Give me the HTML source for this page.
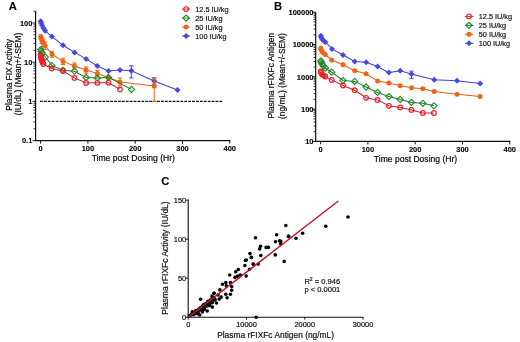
<!DOCTYPE html>
<html><head><meta charset="utf-8"><style>
html,body{margin:0;padding:0;background:#fff;}
svg{display:block;will-change:transform;}
</style></head><body>
<svg width="520" height="342" viewBox="0 0 520 342">
<rect width="520" height="342" fill="#fff"/>
<g font-family="Liberation Sans, sans-serif" fill="#000">
<text x="8.80" y="10.00" font-size="11.2" text-anchor="start" font-weight="bold" stroke="#222" stroke-width="0.12" >A</text>
<line x1="35.60" y1="11.20" x2="35.60" y2="141.10" stroke="#111" stroke-width="1.2" />
<line x1="35.00" y1="140.60" x2="230.30" y2="140.60" stroke="#111" stroke-width="1.2" />
<line x1="32.60" y1="23.00" x2="35.60" y2="23.00" stroke="#111" stroke-width="1" />
<text x="32.40" y="25.80" font-size="7.5" text-anchor="end" font-weight="bold" stroke="#222" stroke-width="0.12" >100</text>
<line x1="32.60" y1="62.20" x2="35.60" y2="62.20" stroke="#111" stroke-width="1" />
<text x="32.40" y="65.00" font-size="7.5" text-anchor="end" font-weight="bold" stroke="#222" stroke-width="0.12" >10</text>
<line x1="32.60" y1="101.40" x2="35.60" y2="101.40" stroke="#111" stroke-width="1" />
<text x="32.40" y="104.20" font-size="7.5" text-anchor="end" font-weight="bold" stroke="#222" stroke-width="0.12" >1</text>
<line x1="32.60" y1="140.60" x2="35.60" y2="140.60" stroke="#111" stroke-width="1" />
<text x="32.40" y="143.40" font-size="7.5" text-anchor="end" font-weight="bold" stroke="#222" stroke-width="0.12" >0.1</text>
<line x1="33.50" y1="128.80" x2="35.60" y2="128.80" stroke="#111" stroke-width="0.9" />
<line x1="33.50" y1="121.90" x2="35.60" y2="121.90" stroke="#111" stroke-width="0.9" />
<line x1="33.50" y1="117.00" x2="35.60" y2="117.00" stroke="#111" stroke-width="0.9" />
<line x1="33.50" y1="113.20" x2="35.60" y2="113.20" stroke="#111" stroke-width="0.9" />
<line x1="33.50" y1="110.10" x2="35.60" y2="110.10" stroke="#111" stroke-width="0.9" />
<line x1="33.50" y1="107.47" x2="35.60" y2="107.47" stroke="#111" stroke-width="0.9" />
<line x1="33.50" y1="105.20" x2="35.60" y2="105.20" stroke="#111" stroke-width="0.9" />
<line x1="33.50" y1="103.19" x2="35.60" y2="103.19" stroke="#111" stroke-width="0.9" />
<line x1="33.50" y1="89.60" x2="35.60" y2="89.60" stroke="#111" stroke-width="0.9" />
<line x1="33.50" y1="82.70" x2="35.60" y2="82.70" stroke="#111" stroke-width="0.9" />
<line x1="33.50" y1="77.80" x2="35.60" y2="77.80" stroke="#111" stroke-width="0.9" />
<line x1="33.50" y1="74.00" x2="35.60" y2="74.00" stroke="#111" stroke-width="0.9" />
<line x1="33.50" y1="70.90" x2="35.60" y2="70.90" stroke="#111" stroke-width="0.9" />
<line x1="33.50" y1="68.27" x2="35.60" y2="68.27" stroke="#111" stroke-width="0.9" />
<line x1="33.50" y1="66.00" x2="35.60" y2="66.00" stroke="#111" stroke-width="0.9" />
<line x1="33.50" y1="63.99" x2="35.60" y2="63.99" stroke="#111" stroke-width="0.9" />
<line x1="33.50" y1="50.40" x2="35.60" y2="50.40" stroke="#111" stroke-width="0.9" />
<line x1="33.50" y1="43.50" x2="35.60" y2="43.50" stroke="#111" stroke-width="0.9" />
<line x1="33.50" y1="38.60" x2="35.60" y2="38.60" stroke="#111" stroke-width="0.9" />
<line x1="33.50" y1="34.80" x2="35.60" y2="34.80" stroke="#111" stroke-width="0.9" />
<line x1="33.50" y1="31.70" x2="35.60" y2="31.70" stroke="#111" stroke-width="0.9" />
<line x1="33.50" y1="29.07" x2="35.60" y2="29.07" stroke="#111" stroke-width="0.9" />
<line x1="33.50" y1="26.80" x2="35.60" y2="26.80" stroke="#111" stroke-width="0.9" />
<line x1="33.50" y1="24.79" x2="35.60" y2="24.79" stroke="#111" stroke-width="0.9" />
<line x1="33.50" y1="11.20" x2="35.60" y2="11.20" stroke="#111" stroke-width="0.9" />
<line x1="40.60" y1="140.60" x2="40.60" y2="143.60" stroke="#111" stroke-width="1" />
<text x="40.60" y="151.00" font-size="7.5" text-anchor="middle" font-weight="bold" stroke="#222" stroke-width="0.12" >0</text>
<line x1="87.90" y1="140.60" x2="87.90" y2="143.60" stroke="#111" stroke-width="1" />
<text x="87.90" y="151.00" font-size="7.5" text-anchor="middle" font-weight="bold" stroke="#222" stroke-width="0.12" >100</text>
<line x1="135.20" y1="140.60" x2="135.20" y2="143.60" stroke="#111" stroke-width="1" />
<text x="135.20" y="151.00" font-size="7.5" text-anchor="middle" font-weight="bold" stroke="#222" stroke-width="0.12" >200</text>
<line x1="182.50" y1="140.60" x2="182.50" y2="143.60" stroke="#111" stroke-width="1" />
<text x="182.50" y="151.00" font-size="7.5" text-anchor="middle" font-weight="bold" stroke="#222" stroke-width="0.12" >300</text>
<line x1="229.80" y1="140.60" x2="229.80" y2="143.60" stroke="#111" stroke-width="1" />
<text x="229.80" y="151.00" font-size="7.5" text-anchor="middle" font-weight="bold" stroke="#222" stroke-width="0.12" >400</text>
<text x="133.30" y="160.50" font-size="8.55" text-anchor="middle" font-weight="normal" stroke="#222" stroke-width="0.22" >Time post Dosing (Hr)</text>
<text x="0.00" y="0.00" font-size="8.4" text-anchor="middle" font-weight="normal" stroke="#222" stroke-width="0.22" transform="translate(11.6,74.8) rotate(-90)">Plasma FIX Activity</text>
<text x="0.00" y="0.00" font-size="8.4" text-anchor="middle" font-weight="normal" stroke="#222" stroke-width="0.22" transform="translate(20.9,74.0) rotate(-90)">(IU/dL) (Mean+/-SEM)</text>
<line x1="40.00" y1="101.35" x2="222.20" y2="101.35" stroke="#111" stroke-width="1.1" stroke-dasharray="2.85 1.05"/>
</g>
<path d="M40.70 21.30 L41.10 23.00 L42.00 25.30 L43.40 28.00 L45.10 30.80 L51.80 36.40 L63.00 45.30 L74.60 52.40 L86.10 58.90 L97.30 66.00 L108.50 71.00 L120.00 70.10 L131.30 70.70 L154.20 81.00 L177.50 90.00" fill="none" stroke="#4040d0" stroke-width="1.05"/>
<line x1="131.30" y1="65.80" x2="131.30" y2="77.90" stroke="#4646e6" stroke-width="1" />
<line x1="129.10" y1="65.80" x2="133.50" y2="65.80" stroke="#4646e6" stroke-width="1" />
<line x1="129.10" y1="77.90" x2="133.50" y2="77.90" stroke="#4646e6" stroke-width="1" />
<line x1="154.20" y1="77.80" x2="154.20" y2="84.00" stroke="#4646e6" stroke-width="1" />
<line x1="152.00" y1="77.80" x2="156.40" y2="77.80" stroke="#4646e6" stroke-width="1" />
<line x1="152.00" y1="84.00" x2="156.40" y2="84.00" stroke="#4646e6" stroke-width="1" />
<path d="M40.70 18.30L43.70 21.30L40.70 24.30L37.70 21.30Z" fill="#4646e6"/>
<path d="M41.10 20.00L44.10 23.00L41.10 26.00L38.10 23.00Z" fill="#4646e6"/>
<path d="M42.00 22.30L45.00 25.30L42.00 28.30L39.00 25.30Z" fill="#4646e6"/>
<path d="M43.40 25.00L46.40 28.00L43.40 31.00L40.40 28.00Z" fill="#4646e6"/>
<path d="M45.10 27.80L48.10 30.80L45.10 33.80L42.10 30.80Z" fill="#4646e6"/>
<path d="M51.80 33.40L54.80 36.40L51.80 39.40L48.80 36.40Z" fill="#4646e6"/>
<path d="M63.00 42.30L66.00 45.30L63.00 48.30L60.00 45.30Z" fill="#4646e6"/>
<path d="M74.60 49.40L77.60 52.40L74.60 55.40L71.60 52.40Z" fill="#4646e6"/>
<path d="M86.10 55.90L89.10 58.90L86.10 61.90L83.10 58.90Z" fill="#4646e6"/>
<path d="M97.30 63.00L100.30 66.00L97.30 69.00L94.30 66.00Z" fill="#4646e6"/>
<path d="M108.50 68.00L111.50 71.00L108.50 74.00L105.50 71.00Z" fill="#4646e6"/>
<path d="M120.00 67.10L123.00 70.10L120.00 73.10L117.00 70.10Z" fill="#4646e6"/>
<path d="M131.30 67.70L134.30 70.70L131.30 73.70L128.30 70.70Z" fill="#4646e6"/>
<path d="M154.20 78.00L157.20 81.00L154.20 84.00L151.20 81.00Z" fill="#4646e6"/>
<path d="M177.50 87.00L180.50 90.00L177.50 93.00L174.50 90.00Z" fill="#4646e6"/>
<path d="M40.70 36.50 L41.10 38.50 L42.00 40.80 L43.40 43.20 L45.10 45.80 L52.00 54.30 L63.00 61.40 L74.40 66.10 L86.00 70.10 L97.30 73.40 L108.50 77.50 L120.00 81.90 L154.20 86.00" fill="none" stroke="#e0601c" stroke-width="1.05"/>
<line x1="42.00" y1="38.00" x2="42.00" y2="43.50" stroke="#f06414" stroke-width="1" />
<line x1="39.80" y1="38.00" x2="44.20" y2="38.00" stroke="#f06414" stroke-width="1" />
<line x1="39.80" y1="43.50" x2="44.20" y2="43.50" stroke="#f06414" stroke-width="1" />
<line x1="43.40" y1="40.00" x2="43.40" y2="46.50" stroke="#f06414" stroke-width="1" />
<line x1="41.20" y1="40.00" x2="45.60" y2="40.00" stroke="#f06414" stroke-width="1" />
<line x1="41.20" y1="46.50" x2="45.60" y2="46.50" stroke="#f06414" stroke-width="1" />
<line x1="45.10" y1="42.20" x2="45.10" y2="49.50" stroke="#f06414" stroke-width="1" />
<line x1="42.90" y1="42.20" x2="47.30" y2="42.20" stroke="#f06414" stroke-width="1" />
<line x1="42.90" y1="49.50" x2="47.30" y2="49.50" stroke="#f06414" stroke-width="1" />
<line x1="52.00" y1="51.30" x2="52.00" y2="57.30" stroke="#f06414" stroke-width="1" />
<line x1="49.80" y1="51.30" x2="54.20" y2="51.30" stroke="#f06414" stroke-width="1" />
<line x1="49.80" y1="57.30" x2="54.20" y2="57.30" stroke="#f06414" stroke-width="1" />
<line x1="63.00" y1="58.30" x2="63.00" y2="64.60" stroke="#f06414" stroke-width="1" />
<line x1="60.80" y1="58.30" x2="65.20" y2="58.30" stroke="#f06414" stroke-width="1" />
<line x1="60.80" y1="64.60" x2="65.20" y2="64.60" stroke="#f06414" stroke-width="1" />
<line x1="74.40" y1="63.00" x2="74.40" y2="69.20" stroke="#f06414" stroke-width="1" />
<line x1="72.20" y1="63.00" x2="76.60" y2="63.00" stroke="#f06414" stroke-width="1" />
<line x1="72.20" y1="69.20" x2="76.60" y2="69.20" stroke="#f06414" stroke-width="1" />
<line x1="86.00" y1="67.00" x2="86.00" y2="73.20" stroke="#f06414" stroke-width="1" />
<line x1="83.80" y1="67.00" x2="88.20" y2="67.00" stroke="#f06414" stroke-width="1" />
<line x1="83.80" y1="73.20" x2="88.20" y2="73.20" stroke="#f06414" stroke-width="1" />
<line x1="97.30" y1="70.40" x2="97.30" y2="76.40" stroke="#f06414" stroke-width="1" />
<line x1="95.10" y1="70.40" x2="99.50" y2="70.40" stroke="#f06414" stroke-width="1" />
<line x1="95.10" y1="76.40" x2="99.50" y2="76.40" stroke="#f06414" stroke-width="1" />
<line x1="120.00" y1="78.00" x2="120.00" y2="85.80" stroke="#f06414" stroke-width="1" />
<line x1="117.80" y1="78.00" x2="122.20" y2="78.00" stroke="#f06414" stroke-width="1" />
<line x1="117.80" y1="85.80" x2="122.20" y2="85.80" stroke="#f06414" stroke-width="1" />
<line x1="154.20" y1="78.30" x2="154.20" y2="101.40" stroke="#f06414" stroke-width="1" />
<line x1="152.00" y1="78.30" x2="156.40" y2="78.30" stroke="#f06414" stroke-width="1" />
<line x1="152.00" y1="101.40" x2="156.40" y2="101.40" stroke="#f06414" stroke-width="1" />
<circle cx="40.70" cy="36.50" r="2.5" fill="#f06414"/>
<circle cx="41.10" cy="38.50" r="2.5" fill="#f06414"/>
<circle cx="42.00" cy="40.80" r="2.5" fill="#f06414"/>
<circle cx="43.40" cy="43.20" r="2.5" fill="#f06414"/>
<circle cx="45.10" cy="45.80" r="2.5" fill="#f06414"/>
<circle cx="52.00" cy="54.30" r="2.5" fill="#f06414"/>
<circle cx="63.00" cy="61.40" r="2.5" fill="#f06414"/>
<circle cx="74.40" cy="66.10" r="2.5" fill="#f06414"/>
<circle cx="86.00" cy="70.10" r="2.5" fill="#f06414"/>
<circle cx="97.30" cy="73.40" r="2.5" fill="#f06414"/>
<circle cx="108.50" cy="77.50" r="2.5" fill="#f06414"/>
<circle cx="120.00" cy="81.90" r="2.5" fill="#f06414"/>
<circle cx="154.20" cy="86.00" r="2.5" fill="#f06414"/>
<path d="M40.70 49.60 L41.10 51.20 L42.00 53.00 L45.30 57.00 L51.80 65.40 L63.00 70.30 L74.40 71.20 L86.10 77.50 L97.30 77.90 L108.50 77.40 L131.50 89.40" fill="none" stroke="#1a7a2a" stroke-width="1.05"/>
<path d="M40.70 46.50L43.80 49.60L40.70 52.70L37.60 49.60Z" fill="none" stroke="#1e8c28" stroke-width="1.15"/>
<path d="M41.10 48.10L44.20 51.20L41.10 54.30L38.00 51.20Z" fill="none" stroke="#1e8c28" stroke-width="1.15"/>
<path d="M42.00 49.90L45.10 53.00L42.00 56.10L38.90 53.00Z" fill="none" stroke="#1e8c28" stroke-width="1.15"/>
<path d="M45.30 53.90L48.40 57.00L45.30 60.10L42.20 57.00Z" fill="none" stroke="#1e8c28" stroke-width="1.15"/>
<path d="M51.80 62.30L54.90 65.40L51.80 68.50L48.70 65.40Z" fill="none" stroke="#1e8c28" stroke-width="1.15"/>
<path d="M63.00 67.20L66.10 70.30L63.00 73.40L59.90 70.30Z" fill="none" stroke="#1e8c28" stroke-width="1.15"/>
<path d="M74.40 68.10L77.50 71.20L74.40 74.30L71.30 71.20Z" fill="none" stroke="#1e8c28" stroke-width="1.15"/>
<path d="M86.10 74.40L89.20 77.50L86.10 80.60L83.00 77.50Z" fill="none" stroke="#1e8c28" stroke-width="1.15"/>
<path d="M97.30 74.80L100.40 77.90L97.30 81.00L94.20 77.90Z" fill="none" stroke="#1e8c28" stroke-width="1.15"/>
<path d="M108.50 74.30L111.60 77.40L108.50 80.50L105.40 77.40Z" fill="none" stroke="#1e8c28" stroke-width="1.15"/>
<path d="M131.50 86.30L134.60 89.40L131.50 92.50L128.40 89.40Z" fill="none" stroke="#1e8c28" stroke-width="1.15"/>
<path d="M40.70 55.00 L40.90 56.60 L41.10 58.00 L41.60 59.60 L42.10 61.00 L42.70 62.60 L43.30 64.00 L51.70 68.50 L63.00 71.00 L74.40 77.90 L86.10 83.00 L97.30 82.80 L108.50 82.70 L120.00 89.40" fill="none" stroke="#c81e32" stroke-width="1.05"/>
<circle cx="40.70" cy="55.00" r="2.35" fill="none" stroke="#e8202a" stroke-width="1.15"/>
<circle cx="40.90" cy="56.60" r="2.35" fill="none" stroke="#e8202a" stroke-width="1.15"/>
<circle cx="41.10" cy="58.00" r="2.35" fill="none" stroke="#e8202a" stroke-width="1.15"/>
<circle cx="41.60" cy="59.60" r="2.35" fill="none" stroke="#e8202a" stroke-width="1.15"/>
<circle cx="42.10" cy="61.00" r="2.35" fill="none" stroke="#e8202a" stroke-width="1.15"/>
<circle cx="42.70" cy="62.60" r="2.35" fill="none" stroke="#e8202a" stroke-width="1.15"/>
<circle cx="43.30" cy="64.00" r="2.35" fill="none" stroke="#e8202a" stroke-width="1.15"/>
<circle cx="51.70" cy="68.50" r="2.35" fill="none" stroke="#e8202a" stroke-width="1.15"/>
<circle cx="63.00" cy="71.00" r="2.35" fill="none" stroke="#e8202a" stroke-width="1.15"/>
<circle cx="74.40" cy="77.90" r="2.35" fill="none" stroke="#e8202a" stroke-width="1.15"/>
<circle cx="86.10" cy="83.00" r="2.35" fill="none" stroke="#e8202a" stroke-width="1.15"/>
<circle cx="97.30" cy="82.80" r="2.35" fill="none" stroke="#e8202a" stroke-width="1.15"/>
<circle cx="108.50" cy="82.70" r="2.35" fill="none" stroke="#e8202a" stroke-width="1.15"/>
<circle cx="120.00" cy="89.40" r="2.35" fill="none" stroke="#e8202a" stroke-width="1.15"/>
<g font-family="Liberation Sans, sans-serif" fill="#222">
<line x1="182.00" y1="9.10" x2="190.20" y2="9.10" stroke="#e8202a" stroke-width="1" />
<circle cx="186.10" cy="9.10" r="2.35" fill="none" stroke="#e8202a" stroke-width="1.15"/>
<text x="195.30" y="11.70" font-size="7.3" text-anchor="start" font-weight="normal" stroke="#222" stroke-width="0.22" >12.5 IU/kg</text>
<line x1="182.00" y1="18.07" x2="190.20" y2="18.07" stroke="#1e8c28" stroke-width="1" />
<path d="M186.10 14.97L189.20 18.07L186.10 21.17L183.00 18.07Z" fill="none" stroke="#1e8c28" stroke-width="1.15"/>
<text x="195.30" y="20.67" font-size="7.3" text-anchor="start" font-weight="normal" stroke="#222" stroke-width="0.22" >25 IU/kg</text>
<line x1="182.00" y1="27.04" x2="190.20" y2="27.04" stroke="#f06414" stroke-width="1" />
<circle cx="186.10" cy="27.04" r="2.5" fill="#f06414"/>
<text x="195.30" y="29.64" font-size="7.3" text-anchor="start" font-weight="normal" stroke="#222" stroke-width="0.22" >50 IU/kg</text>
<line x1="182.00" y1="36.01" x2="190.20" y2="36.01" stroke="#4646e6" stroke-width="1" />
<path d="M186.10 33.01L189.10 36.01L186.10 39.01L183.10 36.01Z" fill="#4646e6"/>
<text x="195.30" y="38.61" font-size="7.3" text-anchor="start" font-weight="normal" stroke="#222" stroke-width="0.22" >100 IU/kg</text>
</g>
<g font-family="Liberation Sans, sans-serif" fill="#000">
<text x="273.90" y="10.00" font-size="11.2" text-anchor="start" font-weight="bold" stroke="#222" stroke-width="0.12" >B</text>
<line x1="315.70" y1="12.20" x2="315.70" y2="141.90" stroke="#111" stroke-width="1.2" />
<line x1="315.10" y1="141.40" x2="510.30" y2="141.40" stroke="#111" stroke-width="1.2" />
<line x1="312.70" y1="12.20" x2="315.70" y2="12.20" stroke="#111" stroke-width="1" />
<text x="313.50" y="15.00" font-size="7.5" text-anchor="end" font-weight="bold" stroke="#222" stroke-width="0.12" >100000</text>
<line x1="312.70" y1="44.50" x2="315.70" y2="44.50" stroke="#111" stroke-width="1" />
<text x="313.50" y="47.30" font-size="7.5" text-anchor="end" font-weight="bold" stroke="#222" stroke-width="0.12" >10000</text>
<line x1="312.70" y1="76.80" x2="315.70" y2="76.80" stroke="#111" stroke-width="1" />
<text x="313.50" y="79.60" font-size="7.5" text-anchor="end" font-weight="bold" stroke="#222" stroke-width="0.12" >1000</text>
<line x1="312.70" y1="109.10" x2="315.70" y2="109.10" stroke="#111" stroke-width="1" />
<text x="313.50" y="111.90" font-size="7.5" text-anchor="end" font-weight="bold" stroke="#222" stroke-width="0.12" >100</text>
<line x1="312.70" y1="141.40" x2="315.70" y2="141.40" stroke="#111" stroke-width="1" />
<text x="313.50" y="144.20" font-size="7.5" text-anchor="end" font-weight="bold" stroke="#222" stroke-width="0.12" >10</text>
<line x1="313.60" y1="131.68" x2="315.70" y2="131.68" stroke="#111" stroke-width="0.9" />
<line x1="313.60" y1="125.99" x2="315.70" y2="125.99" stroke="#111" stroke-width="0.9" />
<line x1="313.60" y1="121.95" x2="315.70" y2="121.95" stroke="#111" stroke-width="0.9" />
<line x1="313.60" y1="118.82" x2="315.70" y2="118.82" stroke="#111" stroke-width="0.9" />
<line x1="313.60" y1="116.27" x2="315.70" y2="116.27" stroke="#111" stroke-width="0.9" />
<line x1="313.60" y1="114.10" x2="315.70" y2="114.10" stroke="#111" stroke-width="0.9" />
<line x1="313.60" y1="112.23" x2="315.70" y2="112.23" stroke="#111" stroke-width="0.9" />
<line x1="313.60" y1="110.58" x2="315.70" y2="110.58" stroke="#111" stroke-width="0.9" />
<line x1="313.60" y1="99.38" x2="315.70" y2="99.38" stroke="#111" stroke-width="0.9" />
<line x1="313.60" y1="93.69" x2="315.70" y2="93.69" stroke="#111" stroke-width="0.9" />
<line x1="313.60" y1="89.65" x2="315.70" y2="89.65" stroke="#111" stroke-width="0.9" />
<line x1="313.60" y1="86.52" x2="315.70" y2="86.52" stroke="#111" stroke-width="0.9" />
<line x1="313.60" y1="83.97" x2="315.70" y2="83.97" stroke="#111" stroke-width="0.9" />
<line x1="313.60" y1="81.80" x2="315.70" y2="81.80" stroke="#111" stroke-width="0.9" />
<line x1="313.60" y1="79.93" x2="315.70" y2="79.93" stroke="#111" stroke-width="0.9" />
<line x1="313.60" y1="78.28" x2="315.70" y2="78.28" stroke="#111" stroke-width="0.9" />
<line x1="313.60" y1="67.08" x2="315.70" y2="67.08" stroke="#111" stroke-width="0.9" />
<line x1="313.60" y1="61.39" x2="315.70" y2="61.39" stroke="#111" stroke-width="0.9" />
<line x1="313.60" y1="57.35" x2="315.70" y2="57.35" stroke="#111" stroke-width="0.9" />
<line x1="313.60" y1="54.22" x2="315.70" y2="54.22" stroke="#111" stroke-width="0.9" />
<line x1="313.60" y1="51.67" x2="315.70" y2="51.67" stroke="#111" stroke-width="0.9" />
<line x1="313.60" y1="49.50" x2="315.70" y2="49.50" stroke="#111" stroke-width="0.9" />
<line x1="313.60" y1="47.63" x2="315.70" y2="47.63" stroke="#111" stroke-width="0.9" />
<line x1="313.60" y1="45.98" x2="315.70" y2="45.98" stroke="#111" stroke-width="0.9" />
<line x1="313.60" y1="34.78" x2="315.70" y2="34.78" stroke="#111" stroke-width="0.9" />
<line x1="313.60" y1="29.09" x2="315.70" y2="29.09" stroke="#111" stroke-width="0.9" />
<line x1="313.60" y1="25.05" x2="315.70" y2="25.05" stroke="#111" stroke-width="0.9" />
<line x1="313.60" y1="21.92" x2="315.70" y2="21.92" stroke="#111" stroke-width="0.9" />
<line x1="313.60" y1="19.37" x2="315.70" y2="19.37" stroke="#111" stroke-width="0.9" />
<line x1="313.60" y1="17.20" x2="315.70" y2="17.20" stroke="#111" stroke-width="0.9" />
<line x1="313.60" y1="15.33" x2="315.70" y2="15.33" stroke="#111" stroke-width="0.9" />
<line x1="313.60" y1="13.68" x2="315.70" y2="13.68" stroke="#111" stroke-width="0.9" />
<line x1="320.60" y1="141.40" x2="320.60" y2="144.40" stroke="#111" stroke-width="1" />
<text x="320.60" y="151.80" font-size="7.5" text-anchor="middle" font-weight="bold" stroke="#222" stroke-width="0.12" >0</text>
<line x1="367.90" y1="141.40" x2="367.90" y2="144.40" stroke="#111" stroke-width="1" />
<text x="367.90" y="151.80" font-size="7.5" text-anchor="middle" font-weight="bold" stroke="#222" stroke-width="0.12" >100</text>
<line x1="415.20" y1="141.40" x2="415.20" y2="144.40" stroke="#111" stroke-width="1" />
<text x="415.20" y="151.80" font-size="7.5" text-anchor="middle" font-weight="bold" stroke="#222" stroke-width="0.12" >200</text>
<line x1="462.50" y1="141.40" x2="462.50" y2="144.40" stroke="#111" stroke-width="1" />
<text x="462.50" y="151.80" font-size="7.5" text-anchor="middle" font-weight="bold" stroke="#222" stroke-width="0.12" >300</text>
<line x1="509.80" y1="141.40" x2="509.80" y2="144.40" stroke="#111" stroke-width="1" />
<text x="509.80" y="151.80" font-size="7.5" text-anchor="middle" font-weight="bold" stroke="#222" stroke-width="0.12" >400</text>
<text x="415.50" y="161.80" font-size="8.55" text-anchor="middle" font-weight="normal" stroke="#222" stroke-width="0.22" >Time post Dosing (Hr)</text>
<text x="0.00" y="0.00" font-size="8.4" text-anchor="middle" font-weight="normal" stroke="#222" stroke-width="0.22" transform="translate(274.3,75.7) rotate(-90)">Plasma rFIXFc Antigen</text>
<text x="0.00" y="0.00" font-size="8.4" text-anchor="middle" font-weight="normal" stroke="#222" stroke-width="0.22" transform="translate(284.8,76.1) rotate(-90)">(ng/mL) (Mean+/-SEM)</text>
</g>
<path d="M320.80 35.80 L321.20 37.30 L322.00 39.00 L323.40 40.60 L325.30 42.00 L332.00 48.90 L343.00 55.00 L354.70 61.50 L366.10 62.30 L377.60 66.50 L388.90 72.60 L400.20 70.70 L411.50 74.10 L434.20 79.70 L457.00 80.80 L480.10 83.60" fill="none" stroke="#4040d0" stroke-width="1.05"/>
<line x1="411.50" y1="71.10" x2="411.50" y2="78.30" stroke="#4646e6" stroke-width="1" />
<line x1="409.30" y1="71.10" x2="413.70" y2="71.10" stroke="#4646e6" stroke-width="1" />
<line x1="409.30" y1="78.30" x2="413.70" y2="78.30" stroke="#4646e6" stroke-width="1" />
<path d="M320.80 32.80L323.80 35.80L320.80 38.80L317.80 35.80Z" fill="#4646e6"/>
<path d="M321.20 34.30L324.20 37.30L321.20 40.30L318.20 37.30Z" fill="#4646e6"/>
<path d="M322.00 36.00L325.00 39.00L322.00 42.00L319.00 39.00Z" fill="#4646e6"/>
<path d="M323.40 37.60L326.40 40.60L323.40 43.60L320.40 40.60Z" fill="#4646e6"/>
<path d="M325.30 39.00L328.30 42.00L325.30 45.00L322.30 42.00Z" fill="#4646e6"/>
<path d="M332.00 45.90L335.00 48.90L332.00 51.90L329.00 48.90Z" fill="#4646e6"/>
<path d="M343.00 52.00L346.00 55.00L343.00 58.00L340.00 55.00Z" fill="#4646e6"/>
<path d="M354.70 58.50L357.70 61.50L354.70 64.50L351.70 61.50Z" fill="#4646e6"/>
<path d="M366.10 59.30L369.10 62.30L366.10 65.30L363.10 62.30Z" fill="#4646e6"/>
<path d="M377.60 63.50L380.60 66.50L377.60 69.50L374.60 66.50Z" fill="#4646e6"/>
<path d="M388.90 69.60L391.90 72.60L388.90 75.60L385.90 72.60Z" fill="#4646e6"/>
<path d="M400.20 67.70L403.20 70.70L400.20 73.70L397.20 70.70Z" fill="#4646e6"/>
<path d="M411.50 71.10L414.50 74.10L411.50 77.10L408.50 74.10Z" fill="#4646e6"/>
<path d="M434.20 76.70L437.20 79.70L434.20 82.70L431.20 79.70Z" fill="#4646e6"/>
<path d="M457.00 77.80L460.00 80.80L457.00 83.80L454.00 80.80Z" fill="#4646e6"/>
<path d="M480.10 80.60L483.10 83.60L480.10 86.60L477.10 83.60Z" fill="#4646e6"/>
<path d="M320.80 48.30 L321.20 49.80 L322.00 51.50 L323.40 53.00 L325.30 54.50 L331.70 60.00 L343.00 64.80 L354.70 70.70 L366.10 73.70 L377.60 81.10 L388.90 82.90 L400.20 85.80 L411.50 87.70 L422.80 88.70 L434.20 91.50 L457.00 94.20 L480.10 96.50" fill="none" stroke="#e0601c" stroke-width="1.05"/>
<circle cx="320.80" cy="48.30" r="2.5" fill="#f06414"/>
<circle cx="321.20" cy="49.80" r="2.5" fill="#f06414"/>
<circle cx="322.00" cy="51.50" r="2.5" fill="#f06414"/>
<circle cx="323.40" cy="53.00" r="2.5" fill="#f06414"/>
<circle cx="325.30" cy="54.50" r="2.5" fill="#f06414"/>
<circle cx="331.70" cy="60.00" r="2.5" fill="#f06414"/>
<circle cx="343.00" cy="64.80" r="2.5" fill="#f06414"/>
<circle cx="354.70" cy="70.70" r="2.5" fill="#f06414"/>
<circle cx="366.10" cy="73.70" r="2.5" fill="#f06414"/>
<circle cx="377.60" cy="81.10" r="2.5" fill="#f06414"/>
<circle cx="388.90" cy="82.90" r="2.5" fill="#f06414"/>
<circle cx="400.20" cy="85.80" r="2.5" fill="#f06414"/>
<circle cx="411.50" cy="87.70" r="2.5" fill="#f06414"/>
<circle cx="422.80" cy="88.70" r="2.5" fill="#f06414"/>
<circle cx="434.20" cy="91.50" r="2.5" fill="#f06414"/>
<circle cx="457.00" cy="94.20" r="2.5" fill="#f06414"/>
<circle cx="480.10" cy="96.50" r="2.5" fill="#f06414"/>
<path d="M320.80 60.80 L321.20 62.30 L322.00 64.00 L323.40 66.00 L325.30 68.00 L331.70 72.20 L343.00 80.40 L354.70 81.40 L366.10 87.00 L377.50 92.40 L388.90 96.60 L400.20 99.50 L411.50 102.40 L422.80 103.30 L433.90 105.80" fill="none" stroke="#1a7a2a" stroke-width="1.05"/>
<path d="M320.80 57.70L323.90 60.80L320.80 63.90L317.70 60.80Z" fill="none" stroke="#1e8c28" stroke-width="1.15"/>
<path d="M321.20 59.20L324.30 62.30L321.20 65.40L318.10 62.30Z" fill="none" stroke="#1e8c28" stroke-width="1.15"/>
<path d="M322.00 60.90L325.10 64.00L322.00 67.10L318.90 64.00Z" fill="none" stroke="#1e8c28" stroke-width="1.15"/>
<path d="M323.40 62.90L326.50 66.00L323.40 69.10L320.30 66.00Z" fill="none" stroke="#1e8c28" stroke-width="1.15"/>
<path d="M325.30 64.90L328.40 68.00L325.30 71.10L322.20 68.00Z" fill="none" stroke="#1e8c28" stroke-width="1.15"/>
<path d="M331.70 69.10L334.80 72.20L331.70 75.30L328.60 72.20Z" fill="none" stroke="#1e8c28" stroke-width="1.15"/>
<path d="M343.00 77.30L346.10 80.40L343.00 83.50L339.90 80.40Z" fill="none" stroke="#1e8c28" stroke-width="1.15"/>
<path d="M354.70 78.30L357.80 81.40L354.70 84.50L351.60 81.40Z" fill="none" stroke="#1e8c28" stroke-width="1.15"/>
<path d="M366.10 83.90L369.20 87.00L366.10 90.10L363.00 87.00Z" fill="none" stroke="#1e8c28" stroke-width="1.15"/>
<path d="M377.50 89.30L380.60 92.40L377.50 95.50L374.40 92.40Z" fill="none" stroke="#1e8c28" stroke-width="1.15"/>
<path d="M388.90 93.50L392.00 96.60L388.90 99.70L385.80 96.60Z" fill="none" stroke="#1e8c28" stroke-width="1.15"/>
<path d="M400.20 96.40L403.30 99.50L400.20 102.60L397.10 99.50Z" fill="none" stroke="#1e8c28" stroke-width="1.15"/>
<path d="M411.50 99.30L414.60 102.40L411.50 105.50L408.40 102.40Z" fill="none" stroke="#1e8c28" stroke-width="1.15"/>
<path d="M422.80 100.20L425.90 103.30L422.80 106.40L419.70 103.30Z" fill="none" stroke="#1e8c28" stroke-width="1.15"/>
<path d="M433.90 102.70L437.00 105.80L433.90 108.90L430.80 105.80Z" fill="none" stroke="#1e8c28" stroke-width="1.15"/>
<path d="M320.80 71.50 L321.20 72.80 L322.00 74.30 L323.40 75.30 L325.30 76.50 L331.70 79.90 L343.00 85.50 L354.70 90.20 L366.10 97.80 L377.50 99.90 L388.90 105.80 L400.20 107.40 L411.50 109.90 L422.80 113.00 L433.90 113.00" fill="none" stroke="#c81e32" stroke-width="1.05"/>
<circle cx="320.80" cy="71.50" r="2.35" fill="none" stroke="#e8202a" stroke-width="1.15"/>
<circle cx="321.20" cy="72.80" r="2.35" fill="none" stroke="#e8202a" stroke-width="1.15"/>
<circle cx="322.00" cy="74.30" r="2.35" fill="none" stroke="#e8202a" stroke-width="1.15"/>
<circle cx="323.40" cy="75.30" r="2.35" fill="none" stroke="#e8202a" stroke-width="1.15"/>
<circle cx="325.30" cy="76.50" r="2.35" fill="none" stroke="#e8202a" stroke-width="1.15"/>
<circle cx="331.70" cy="79.90" r="2.35" fill="none" stroke="#e8202a" stroke-width="1.15"/>
<circle cx="343.00" cy="85.50" r="2.35" fill="none" stroke="#e8202a" stroke-width="1.15"/>
<circle cx="354.70" cy="90.20" r="2.35" fill="none" stroke="#e8202a" stroke-width="1.15"/>
<circle cx="366.10" cy="97.80" r="2.35" fill="none" stroke="#e8202a" stroke-width="1.15"/>
<circle cx="377.50" cy="99.90" r="2.35" fill="none" stroke="#e8202a" stroke-width="1.15"/>
<circle cx="388.90" cy="105.80" r="2.35" fill="none" stroke="#e8202a" stroke-width="1.15"/>
<circle cx="400.20" cy="107.40" r="2.35" fill="none" stroke="#e8202a" stroke-width="1.15"/>
<circle cx="411.50" cy="109.90" r="2.35" fill="none" stroke="#e8202a" stroke-width="1.15"/>
<circle cx="422.80" cy="113.00" r="2.35" fill="none" stroke="#e8202a" stroke-width="1.15"/>
<circle cx="433.90" cy="113.00" r="2.35" fill="none" stroke="#e8202a" stroke-width="1.15"/>
<g font-family="Liberation Sans, sans-serif" fill="#222">
<line x1="464.90" y1="16.40" x2="473.50" y2="16.40" stroke="#e8202a" stroke-width="1" />
<circle cx="469.00" cy="16.40" r="2.35" fill="none" stroke="#e8202a" stroke-width="1.15"/>
<text x="478.80" y="19.00" font-size="7.3" text-anchor="start" font-weight="normal" stroke="#222" stroke-width="0.22" >12.5 IU/kg</text>
<line x1="464.90" y1="25.37" x2="473.50" y2="25.37" stroke="#1e8c28" stroke-width="1" />
<path d="M469.00 22.27L472.10 25.37L469.00 28.47L465.90 25.37Z" fill="none" stroke="#1e8c28" stroke-width="1.15"/>
<text x="478.80" y="27.97" font-size="7.3" text-anchor="start" font-weight="normal" stroke="#222" stroke-width="0.22" >25 IU/kg</text>
<line x1="464.90" y1="34.34" x2="473.50" y2="34.34" stroke="#f06414" stroke-width="1" />
<circle cx="469.00" cy="34.34" r="2.5" fill="#f06414"/>
<text x="478.80" y="36.94" font-size="7.3" text-anchor="start" font-weight="normal" stroke="#222" stroke-width="0.22" >50 IU/kg</text>
<line x1="464.90" y1="43.31" x2="473.50" y2="43.31" stroke="#4646e6" stroke-width="1" />
<path d="M469.00 40.31L472.00 43.31L469.00 46.31L466.00 43.31Z" fill="#4646e6"/>
<text x="478.80" y="45.91" font-size="7.3" text-anchor="start" font-weight="normal" stroke="#222" stroke-width="0.22" >100 IU/kg</text>
</g>
<g font-family="Liberation Sans, sans-serif" fill="#111">
<text x="161.20" y="185.20" font-size="11.3" text-anchor="start" font-weight="bold" stroke="#222" stroke-width="0.12" fill="#000">C</text>
<line x1="188.20" y1="199.60" x2="188.20" y2="317.70" stroke="#111" stroke-width="1.1" />
<line x1="187.70" y1="317.20" x2="363.50" y2="317.20" stroke="#111" stroke-width="1.1" />
<line x1="185.80" y1="317.20" x2="188.20" y2="317.20" stroke="#111" stroke-width="1" />
<text x="186.20" y="319.80" font-size="7.45" text-anchor="end" font-weight="normal" stroke="#222" stroke-width="0.22" >0</text>
<line x1="185.80" y1="278.17" x2="188.20" y2="278.17" stroke="#111" stroke-width="1" />
<text x="186.20" y="280.77" font-size="7.45" text-anchor="end" font-weight="normal" stroke="#222" stroke-width="0.22" >50</text>
<line x1="185.80" y1="239.14" x2="188.20" y2="239.14" stroke="#111" stroke-width="1" />
<text x="186.20" y="241.74" font-size="7.45" text-anchor="end" font-weight="normal" stroke="#222" stroke-width="0.22" >100</text>
<line x1="185.80" y1="200.11" x2="188.20" y2="200.11" stroke="#111" stroke-width="1" />
<text x="186.20" y="202.71" font-size="7.45" text-anchor="end" font-weight="normal" stroke="#222" stroke-width="0.22" >150</text>
<line x1="188.20" y1="317.20" x2="188.20" y2="319.60" stroke="#111" stroke-width="1" />
<text x="188.20" y="327.10" font-size="7.45" text-anchor="middle" font-weight="normal" stroke="#222" stroke-width="0.22" >0</text>
<line x1="246.47" y1="317.20" x2="246.47" y2="319.60" stroke="#111" stroke-width="1" />
<text x="246.47" y="327.10" font-size="7.45" text-anchor="middle" font-weight="normal" stroke="#222" stroke-width="0.22" >10000</text>
<line x1="304.74" y1="317.20" x2="304.74" y2="319.60" stroke="#111" stroke-width="1" />
<text x="304.74" y="327.10" font-size="7.45" text-anchor="middle" font-weight="normal" stroke="#222" stroke-width="0.22" >20000</text>
<line x1="363.01" y1="317.20" x2="363.01" y2="319.60" stroke="#111" stroke-width="1" />
<text x="363.01" y="327.10" font-size="7.45" text-anchor="middle" font-weight="normal" stroke="#222" stroke-width="0.22" >30000</text>
<text x="275.60" y="338.40" font-size="8.4" text-anchor="middle" font-weight="normal" stroke="#222" stroke-width="0.22" >Plasma rFIXFc Antigen (ng/mL)</text>
<text x="0.00" y="0.00" font-size="8.5" text-anchor="middle" font-weight="normal" stroke="#222" stroke-width="0.22" transform="translate(168.3,258.0) rotate(-90)">Plasma rFIXFc Activity (IU/dL)</text>
<text x="304.40" y="283.60" font-size="7.55" text-anchor="start" font-weight="normal" stroke="#222" stroke-width="0.22" >R<tspan dy="-2.7" font-size="5">2</tspan><tspan dy="2.7"> = 0.946</tspan></text>
<text x="304.40" y="292.20" font-size="7.55" text-anchor="start" font-weight="normal" stroke="#222" stroke-width="0.22" >p &lt; 0.0001</text>
</g>
<circle cx="200.60" cy="299.20" r="1.8" fill="#000"/>
<circle cx="214.20" cy="293.30" r="1.8" fill="#000"/>
<circle cx="199.70" cy="315.00" r="1.8" fill="#000"/>
<circle cx="212.40" cy="307.10" r="1.8" fill="#000"/>
<circle cx="207.20" cy="311.00" r="1.8" fill="#000"/>
<circle cx="204.50" cy="309.30" r="1.8" fill="#000"/>
<circle cx="202.40" cy="312.00" r="1.8" fill="#000"/>
<circle cx="197.50" cy="312.80" r="1.8" fill="#000"/>
<circle cx="192.30" cy="311.90" r="1.8" fill="#000"/>
<circle cx="208.00" cy="301.40" r="1.8" fill="#000"/>
<circle cx="210.70" cy="302.30" r="1.8" fill="#000"/>
<circle cx="209.80" cy="305.40" r="1.8" fill="#000"/>
<circle cx="189.32" cy="315.79" r="1.8" fill="#000"/>
<circle cx="191.14" cy="314.85" r="1.8" fill="#000"/>
<circle cx="192.42" cy="313.18" r="1.8" fill="#000"/>
<circle cx="193.53" cy="314.66" r="1.8" fill="#000"/>
<circle cx="194.48" cy="312.56" r="1.8" fill="#000"/>
<circle cx="195.28" cy="313.61" r="1.8" fill="#000"/>
<circle cx="195.72" cy="310.84" r="1.8" fill="#000"/>
<circle cx="197.32" cy="312.96" r="1.8" fill="#000"/>
<circle cx="197.96" cy="313.82" r="1.8" fill="#000"/>
<circle cx="197.68" cy="310.08" r="1.8" fill="#000"/>
<circle cx="198.61" cy="311.31" r="1.8" fill="#000"/>
<circle cx="199.16" cy="308.68" r="1.8" fill="#000"/>
<circle cx="200.01" cy="309.81" r="1.8" fill="#000"/>
<circle cx="200.76" cy="307.44" r="1.8" fill="#000"/>
<circle cx="202.04" cy="309.15" r="1.8" fill="#000"/>
<circle cx="202.79" cy="310.15" r="1.8" fill="#000"/>
<circle cx="202.42" cy="306.29" r="1.8" fill="#000"/>
<circle cx="203.52" cy="307.75" r="1.8" fill="#000"/>
<circle cx="203.62" cy="304.51" r="1.8" fill="#000"/>
<circle cx="205.17" cy="306.58" r="1.8" fill="#000"/>
<circle cx="205.53" cy="303.69" r="1.8" fill="#000"/>
<circle cx="206.50" cy="304.98" r="1.8" fill="#000"/>
<circle cx="207.30" cy="306.04" r="1.8" fill="#000"/>
<circle cx="207.30" cy="302.67" r="1.8" fill="#000"/>
<circle cx="208.20" cy="303.88" r="1.8" fill="#000"/>
<circle cx="208.81" cy="301.32" r="1.8" fill="#000"/>
<circle cx="210.05" cy="302.96" r="1.8" fill="#000"/>
<circle cx="210.41" cy="300.07" r="1.8" fill="#000"/>
<circle cx="211.67" cy="301.76" r="1.8" fill="#000"/>
<circle cx="212.32" cy="302.62" r="1.8" fill="#000"/>
<circle cx="212.06" cy="298.90" r="1.8" fill="#000"/>
<circle cx="212.99" cy="300.14" r="1.8" fill="#000"/>
<circle cx="213.74" cy="297.77" r="1.8" fill="#000"/>
<circle cx="214.85" cy="299.25" r="1.8" fill="#000"/>
<circle cx="213.90" cy="293.20" r="1.8" fill="#000"/>
<circle cx="219.90" cy="289.90" r="1.8" fill="#000"/>
<circle cx="222.50" cy="284.20" r="1.8" fill="#000"/>
<circle cx="225.80" cy="282.60" r="1.8" fill="#000"/>
<circle cx="226.40" cy="285.90" r="1.8" fill="#000"/>
<circle cx="230.40" cy="282.60" r="1.8" fill="#000"/>
<circle cx="231.70" cy="286.60" r="1.8" fill="#000"/>
<circle cx="231.70" cy="290.30" r="1.8" fill="#000"/>
<circle cx="230.40" cy="294.20" r="1.8" fill="#000"/>
<circle cx="225.80" cy="294.20" r="1.8" fill="#000"/>
<circle cx="227.10" cy="297.80" r="1.8" fill="#000"/>
<circle cx="221.20" cy="297.10" r="1.8" fill="#000"/>
<circle cx="219.20" cy="299.10" r="1.8" fill="#000"/>
<circle cx="229.70" cy="275.00" r="1.8" fill="#000"/>
<circle cx="235.70" cy="271.80" r="1.8" fill="#000"/>
<circle cx="238.30" cy="269.50" r="1.8" fill="#000"/>
<circle cx="235.00" cy="277.40" r="1.8" fill="#000"/>
<circle cx="237.60" cy="276.10" r="1.8" fill="#000"/>
<circle cx="240.30" cy="275.00" r="1.8" fill="#000"/>
<circle cx="246.20" cy="276.10" r="1.8" fill="#000"/>
<circle cx="244.90" cy="265.50" r="1.8" fill="#000"/>
<circle cx="245.50" cy="260.50" r="1.8" fill="#000"/>
<circle cx="249.50" cy="269.20" r="1.8" fill="#000"/>
<circle cx="251.40" cy="257.40" r="1.8" fill="#000"/>
<circle cx="253.40" cy="264.20" r="1.8" fill="#000"/>
<circle cx="255.50" cy="237.80" r="1.8" fill="#000"/>
<circle cx="260.50" cy="246.30" r="1.8" fill="#000"/>
<circle cx="259.70" cy="248.90" r="1.8" fill="#000"/>
<circle cx="266.10" cy="247.40" r="1.8" fill="#000"/>
<circle cx="268.40" cy="247.40" r="1.8" fill="#000"/>
<circle cx="250.00" cy="253.60" r="1.8" fill="#000"/>
<circle cx="251.30" cy="257.50" r="1.8" fill="#000"/>
<circle cx="260.80" cy="255.50" r="1.8" fill="#000"/>
<circle cx="246.30" cy="260.10" r="1.8" fill="#000"/>
<circle cx="253.20" cy="264.10" r="1.8" fill="#000"/>
<circle cx="258.20" cy="264.10" r="1.8" fill="#000"/>
<circle cx="275.30" cy="254.90" r="1.8" fill="#000"/>
<circle cx="276.60" cy="234.70" r="1.8" fill="#000"/>
<circle cx="275.50" cy="241.70" r="1.8" fill="#000"/>
<circle cx="279.50" cy="240.80" r="1.8" fill="#000"/>
<circle cx="280.50" cy="243.70" r="1.8" fill="#000"/>
<circle cx="285.80" cy="225.50" r="1.8" fill="#000"/>
<circle cx="288.40" cy="236.40" r="1.8" fill="#000"/>
<circle cx="284.20" cy="261.40" r="1.8" fill="#000"/>
<circle cx="288.60" cy="236.30" r="1.8" fill="#000"/>
<circle cx="296.00" cy="238.20" r="1.8" fill="#000"/>
<circle cx="302.60" cy="233.30" r="1.8" fill="#000"/>
<circle cx="325.80" cy="226.30" r="1.8" fill="#000"/>
<circle cx="348.00" cy="217.00" r="1.8" fill="#000"/>
<circle cx="280.70" cy="241.20" r="1.8" fill="#000"/>
<circle cx="280.70" cy="243.80" r="1.8" fill="#000"/>
<circle cx="256.20" cy="317.20" r="1.8" fill="#000"/>
<circle cx="215.00" cy="300.00" r="1.8" fill="#000"/>
<circle cx="216.50" cy="303.00" r="1.8" fill="#000"/>
<circle cx="218.00" cy="295.00" r="1.8" fill="#000"/>
<circle cx="212.00" cy="296.00" r="1.8" fill="#000"/>
<line x1="188.00" y1="317.40" x2="338.30" y2="201.00" stroke="#c8142a" stroke-width="1.45" />
</svg>
</body></html>
